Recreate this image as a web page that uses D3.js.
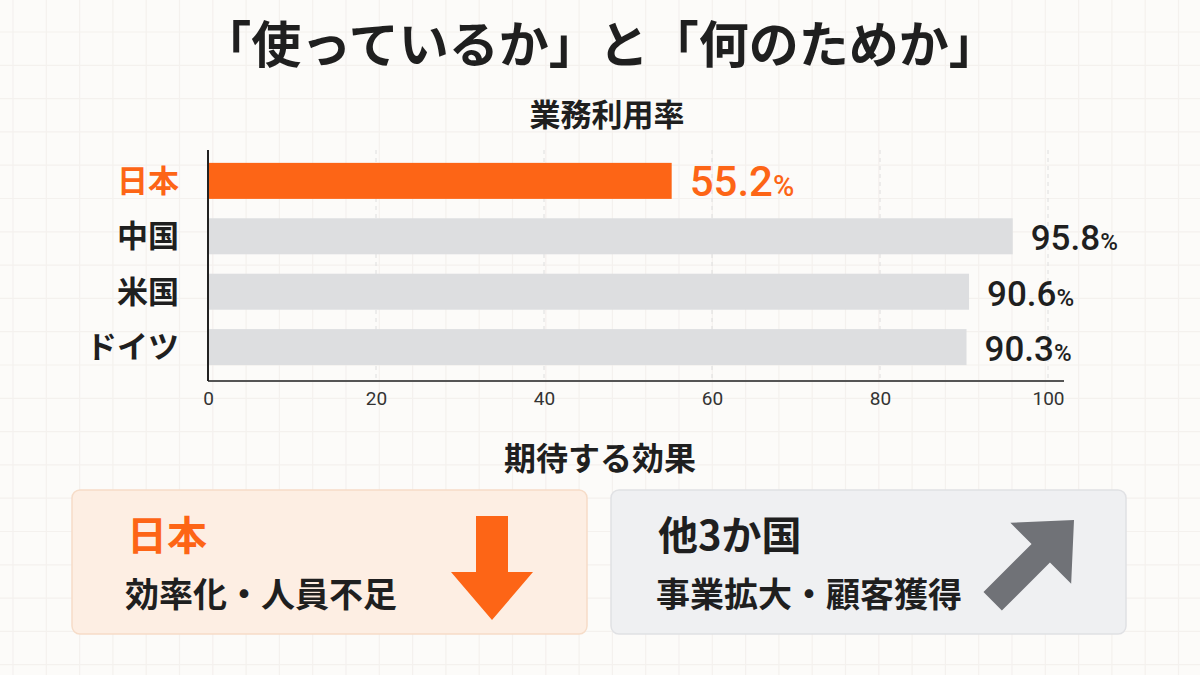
<!DOCTYPE html>
<html lang="ja">
<head>
<meta charset="utf-8">
<script src="https://cdn.jsdelivr.net/npm/d3@7"></script>
<style>
  html, body { margin: 0; padding: 0; background: #fcfbf9; }
  svg { display: block; }
  .jp { font-family: "Noto Sans CJK JP", "Noto Sans", sans-serif; font-weight: 700; }
  .num { font-family: Roboto, "Noto Sans", sans-serif; }
</style>
</head>
<body>
<div id="chart"></div>
<script>
// chart data
const countries = ["日本", "中国", "米国", "ドイツ"];
const usageRates = [55.2, 95.8, 90.6, 90.3];
const xTicks = [0, 20, 40, 60, 80, 100];

const titleText = "「使っているか」と「何のためか」";
const chartTitle = "業務利用率";
const effectTitle = "期待する効果";
const effectGroups = ["日本", "他3か国"];
const effectTexts = ["効率化・人員不足", "事業拡大・顧客獲得"];

const W = 1200, H = 675;
const orange = "#fd6516";
const dark = "#1f1f1f";

const svg = d3.select("#chart").append("svg")
  .attr("width", W)
  .attr("height", H);

// background grid paper
const bg = svg.append("g");
bg.append("rect").attr("width", W).attr("height", H).attr("fill", "#fcfbf9");
bg.selectAll("line.v").data(d3.range(13, W, 33.3)).join("line")
  .attr("x1", d => d).attr("x2", d => d).attr("y1", 0).attr("y2", H)
  .attr("stroke", "#f4f1ee").attr("stroke-width", 1.2);
bg.selectAll("line.h").data(d3.range(32, H, 33.3)).join("line")
  .attr("y1", d => d).attr("y2", d => d).attr("x1", 0).attr("x2", W)
  .attr("stroke", "#f4f1ee").attr("stroke-width", 1.2);

// title
svg.append("text").attr("class", "jp")
  .attr("x", 600).attr("y", 63)
  .attr("text-anchor", "middle")
  .attr("font-size", 50).attr("fill", dark)
  .text(titleText);

svg.append("text").attr("class", "jp")
  .attr("x", 607).attr("y", 126)
  .attr("text-anchor", "middle")
  .attr("font-size", 31).attr("fill", dark)
  .text(chartTitle);

// scales
const x = d3.scaleLinear().domain([0, 100]).range([208, 1048]);
const y = d3.scaleBand().domain(countries).range([154, 374])
  .paddingInner(0.35).paddingOuter(0.16);

const plotTop = 150, plotBottom = 381;

// dashed gridlines
svg.append("g")
  .selectAll("line").data(xTicks.filter(d => d > 0)).join("line")
  .attr("x1", d => x(d)).attr("x2", d => x(d))
  .attr("y1", plotTop).attr("y2", plotBottom)
  .attr("stroke", "#dedede").attr("stroke-width", 1)
  .attr("stroke-dasharray", "4,4");

// bars
const rows = countries.map((c, i) => ({ country: c, value: usageRates[i], first: i === 0 }));

svg.append("g").selectAll("rect").data(rows).join("rect")
  .attr("x", x(0))
  .attr("y", d => y(d.country))
  .attr("width", d => x(d.value) - x(0))
  .attr("height", y.bandwidth())
  .attr("fill", d => d.first ? orange : "#dddee0");

// value labels
const vals = svg.append("g").selectAll("text").data(rows).join("text")
  .attr("class", "num")
  .attr("x", d => x(d.value) + 18)
  .attr("y", d => y(d.country) + y.bandwidth() / 2 + (d.first ? 15 : 14))
  .attr("fill", d => d.first ? orange : dark)
  .attr("font-weight", 500)
  .attr("font-size", d => d.first ? 42 : 35);
vals.append("tspan").text(d => d.value.toFixed(1));
vals.append("tspan")
  .attr("font-size", d => d.first ? 29 : 24)
  .text("%");

// category labels
svg.append("g").selectAll("text").data(rows).join("text")
  .attr("class", "jp")
  .attr("x", 179)
  .attr("y", d => y(d.country) + y.bandwidth() / 2 + 11)
  .attr("text-anchor", "end")
  .attr("font-size", 31)
  .attr("fill", d => d.first ? orange : dark)
  .text(d => d.country);

// axes lines
svg.append("line")
  .attr("x1", x(0)).attr("x2", 1064)
  .attr("y1", plotBottom).attr("y2", plotBottom)
  .attr("stroke", "#555").attr("stroke-width", 2);
svg.append("line")
  .attr("x1", x(0)).attr("x2", x(0))
  .attr("y1", plotTop).attr("y2", plotBottom)
  .attr("stroke", "#222").attr("stroke-width", 2);

// tick labels via d3 axis
const xAxis = svg.append("g")
  .attr("transform", `translate(0,${plotBottom})`)
  .call(d3.axisBottom(x).tickValues(xTicks).tickSize(0).tickPadding(11));
xAxis.select(".domain").remove();
xAxis.selectAll("text")
  .attr("class", "num")
  .attr("font-size", 19)
  .attr("fill", "#333");

// "expected effects" heading
svg.append("text").attr("class", "jp")
  .attr("x", 600).attr("y", 470)
  .attr("text-anchor", "middle")
  .attr("font-size", 32).attr("fill", dark)
  .text(effectTitle);

// effect boxes
const boxes = [
  { x: 72, fill: "#fdeee3", stroke: "#f6dcc8", titleColor: orange, tx: 127 },
  { x: 611, fill: "#eff0f2", stroke: "#e0e1e4", titleColor: dark, tx: 658 }
];
const boxW = 515, boxY = 490, boxH = 144;

boxes.forEach((b, i) => {
  const g = svg.append("g");
  g.append("rect")
    .attr("x", b.x).attr("y", boxY)
    .attr("width", boxW).attr("height", boxH)
    .attr("rx", 8)
    .attr("fill", b.fill).attr("stroke", b.stroke).attr("stroke-width", 1.5);
  g.append("text").attr("class", "jp")
    .attr("x", b.tx).attr("y", 550)
    .attr("font-size", 40).attr("fill", b.titleColor)
    .text(effectGroups[i]);
  g.append("text").attr("class", "jp")
    .attr("x", b.tx - 2).attr("y", 607)
    .attr("font-size", 34).attr("fill", dark)
    .text(effectTexts[i]);
});

// down arrow (Japan)
const arrowLine = d3.line();
svg.append("path")
  .attr("d", arrowLine([[476, 516], [508, 516], [508, 572], [533, 572], [492, 620], [451, 572], [476, 572]]) + "Z")
  .attr("fill", orange);

// up-right arrow (others)
svg.append("path")
  .attr("transform", "translate(1074,520) rotate(-45)")
  .attr("d", arrowLine([[0, 0], [-47, -43], [-47, -13], [-115, -13], [-115, 13], [-47, 13], [-47, 43]]) + "Z")
  .attr("fill", "#707277");
</script>
</body>
</html>
